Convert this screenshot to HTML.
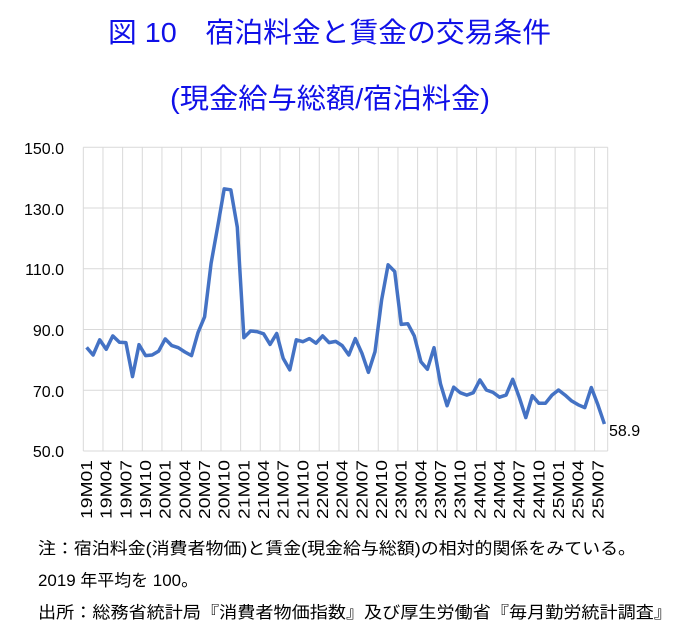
<!DOCTYPE html>
<html><head><meta charset="utf-8"><style>
body{margin:0;background:#fff}
svg{display:block}
</style></head><body>
<svg id="s" width="697" height="636" xmlns="http://www.w3.org/2000/svg" font-family="Liberation Sans, Noto Sans CJK JP, sans-serif">
<rect width="697" height="636" fill="#fff"/>
<text x="108" y="42" font-size="28" fill="#1010e8" textLength="443" lengthAdjust="spacingAndGlyphs">図 10　宿泊料金と賃金の交易条件</text>
<text x="170" y="108" font-size="28" fill="#1010e8" textLength="320" lengthAdjust="spacingAndGlyphs">(現金給与総額/宿泊料金)</text>
<g id="grid" stroke="#d9d9d9" stroke-width="1"></g>
<g font-size="16" fill="#000" text-anchor="end">
<text x="64" y="154">150.0</text>
<text x="64" y="215">130.0</text>
<text x="64" y="275">110.0</text>
<text x="64" y="336">90.0</text>
<text x="64" y="397">70.0</text>
<text x="64" y="457">50.0</text>
</g>
<g id="xl" font-size="16" fill="#000" text-anchor="end"></g>
<polyline id="line" fill="none" stroke="#4472c4" stroke-width="3.5" stroke-linejoin="round"/>
<text x="609" y="436" font-size="16" fill="#000">58.9</text>
<g font-size="16.5" fill="#000">
<text x="38" y="554" textLength="598" lengthAdjust="spacingAndGlyphs">注：宿泊料金(消費者物価)と賃金(現金給与総額)の相対的関係をみている。</text>
<text x="38" y="586" textLength="160" lengthAdjust="spacingAndGlyphs">2019 年平均を 100。</text>
<text x="38" y="618" textLength="634" lengthAdjust="spacingAndGlyphs">出所：総務省統計局『消費者物価指数』及び厚生労働省『毎月勤労統計調査』</text>
</g>
<script>
var d=[84.1,81.6,86.6,83.5,87.9,85.8,85.7,74.5,85.0,81.4,81.6,82.9,86.9,84.7,84.0,82.6,81.4,89.0,94.2,111.8,123.9,136.3,136.0,123.7,87.3,89.5,89.3,88.6,85.1,88.7,80.5,76.7,86.6,86.0,87.0,85.5,87.9,85.7,86.1,84.7,81.6,87.0,82.2,75.9,82.7,99.7,111.3,109.1,91.7,91.9,87.9,79.4,76.9,84.0,72.1,64.9,71.0,69.2,68.4,69.2,73.4,70.1,69.3,67.7,68.4,73.6,67.7,61.0,68.2,65.7,65.7,68.4,70.1,68.4,66.5,65.2,64.3,70.9,65.2,58.9];
var L=83.3,R=607.7,T=147.3,B=451,w=(R-L)/80;
function Y(v){return B-(v-50)*(B-T)/100;}
var ns="http://www.w3.org/2000/svg",g=document.getElementById('grid');
function ln(x1,y1,x2,y2){var e=document.createElementNS(ns,'line');e.setAttribute('x1',x1);e.setAttribute('y1',y1);e.setAttribute('x2',x2);e.setAttribute('y2',y2);g.appendChild(e);}
for(var v=50;v<=150;v+=20){ln(L,Y(v),R,Y(v));}
for(var i=0;i<=78;i+=3){var x=L+i*w;ln(x,T,x,B);}
ln(R,T,R,B);
var p=d.map(function(v,i){return (L+(i+0.5)*w).toFixed(1)+','+Y(v).toFixed(1)}).join(' ');
document.getElementById('line').setAttribute('points',p);
var xg=document.getElementById('xl');
var mos=['01','02','03','04','05','06','07','08','09','10','11','12'];
for(var i=0;i<80;i+=3){var yr=19+Math.floor(i/12),mo=mos[i%12];var x=L+(i+0.5)*w+5.5;
var t=document.createElementNS(ns,'text');t.setAttribute('transform','translate('+x.toFixed(1)+',460) rotate(-90)');t.setAttribute('textLength','59');t.setAttribute('lengthAdjust','spacingAndGlyphs');t.textContent=yr+'M'+mo;xg.appendChild(t);}
</script>
</svg>
</body></html>
